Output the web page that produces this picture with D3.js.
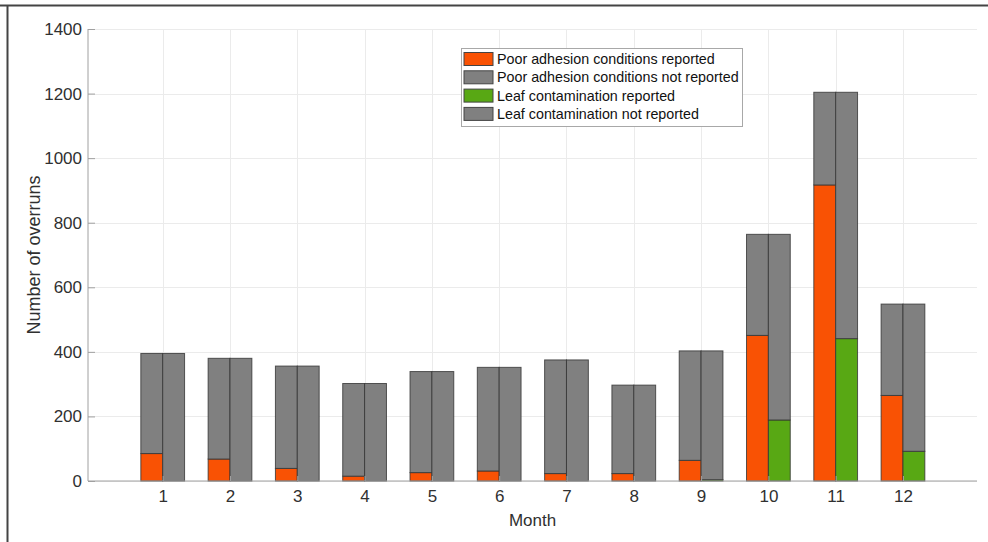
<!DOCTYPE html>
<html>
<head>
<meta charset="utf-8">
<script src="https://cdn.jsdelivr.net/npm/d3@7"></script>
<style>
  body { margin: 0; background: #fff; }
  svg { display: block; font-family: "Liberation Sans", Arial, sans-serif; }
</style>
</head>
<body>
<div id="chart"></div>
<script>
const months = [1, 2, 3, 4, 5, 6, 7, 8, 9, 10, 11, 12];
const totals = [395, 380, 356, 302, 339, 352, 375, 297, 403, 764, 1204, 548];
const adhesionReported = [85, 68, 39, 15, 26, 31, 23, 23, 64, 451, 917, 265];
const leafReported = [0, 0, 0, 0, 0, 0, 0, 0, 4, 189, 441, 92];
const yTicks = [0, 200, 400, 600, 800, 1000, 1200, 1400];
const legendLabels = [
  "Poor adhesion conditions reported",
  "Poor adhesion conditions not reported",
  "Leaf contamination reported",
  "Leaf contamination not reported"
];
const colors = ["#f95204", "#808080", "#58a814", "#808080"];

const width = 988, height = 542;
const margin = { left: 88, right: 11, top: 29, bottom: 61 };

const svg = d3.select("#chart").append("svg")
  .attr("width", width).attr("height", height);

// outer frame (top and left edges only visible)
svg.append("line").attr("x1", 0).attr("x2", width).attr("y1", 5.5).attr("y2", 5.5)
  .attr("stroke", "#444").attr("stroke-width", 2);
svg.append("line").attr("x1", 7.5).attr("x2", 7.5).attr("y1", 5).attr("y2", height)
  .attr("stroke", "#444").attr("stroke-width", 2);

const x = d3.scaleLinear().domain([-0.11, 13.1]).range([margin.left, width - margin.right]);
const y = d3.scaleLinear().domain([0, 1400]).range([height - margin.bottom, margin.top]);

// grid
svg.append("g").selectAll("line").data(yTicks).join("line")
  .attr("x1", x.range()[0]).attr("x2", x.range()[1])
  .attr("y1", d => Math.round(y(d)) + 0.5).attr("y2", d => Math.round(y(d)) + 0.5)
  .attr("stroke", "#ebebeb");
svg.append("g").selectAll("line").data(months).join("line")
  .attr("x1", d => Math.round(x(d)) + 0.5).attr("x2", d => Math.round(x(d)) + 0.5)
  .attr("y1", y(0)).attr("y2", y(1400))
  .attr("stroke", "#ebebeb");

// bars
const bw = 0.325;
const rows = months.map((m, i) => ({
  m,
  segs: [
    { x0: m - bw, x1: m, y0: 0, y1: adhesionReported[i], c: colors[0] },
    { x0: m - bw, x1: m, y0: adhesionReported[i], y1: totals[i], c: colors[1] },
    { x0: m, x1: m + bw, y0: 0, y1: leafReported[i], c: colors[2] },
    { x0: m, x1: m + bw, y0: leafReported[i], y1: totals[i], c: colors[3] }
  ]
}));
svg.append("g").selectAll("rect")
  .data(rows.flatMap(r => r.segs).filter(s => s.y1 > s.y0))
  .join("rect")
  .attr("x", d => x(d.x0))
  .attr("width", d => x(d.x1) - x(d.x0))
  .attr("y", d => y(d.y1))
  .attr("height", d => y(d.y0) - y(d.y1))
  .attr("fill", d => d.c)
  .attr("stroke", "#333")
  .attr("stroke-opacity", 0.8)
  .attr("stroke-width", 1);

// axes
const xAxis = d3.axisBottom(x).tickValues(months).tickSize(-5).tickPadding(9);
const yAxis = d3.axisLeft(y).tickValues(yTicks).tickFormat(d3.format("d")).tickSize(-7).tickPadding(6);

const gx = svg.append("g").attr("transform", `translate(0,${y(0)})`).call(xAxis);
const gy = svg.append("g").attr("transform", `translate(${margin.left},0)`).call(yAxis);
[gx, gy].forEach(g => {
  g.select(".domain").attr("stroke", "#a0a0a0");
  g.selectAll(".tick line").attr("stroke", "#a0a0a0");
  g.selectAll(".tick text").attr("fill", "#303030")
    .style("font-size", "17px").style("font-family", "'Liberation Sans', Arial, sans-serif");
});
gx.select(".domain").attr("d", `M${x.range()[0]},0H${x.range()[1]}`);
gy.select(".domain").attr("d", `M0,${y(0)}V${y(1400)}`);

// axis titles
svg.append("text").attr("x", (x.range()[0] + x.range()[1]) / 2).attr("y", 526)
  .attr("text-anchor", "middle").attr("fill", "#303030").style("font-size", "17px")
  .text("Month");
svg.append("text")
  .attr("transform", `translate(40,${(y(0) + y(1400)) / 2}) rotate(-90)`)
  .attr("text-anchor", "middle").attr("fill", "#303030").style("font-size", "18px")
  .text("Number of overruns");

// legend
const lg = svg.append("g").attr("transform", "translate(461,48)");
lg.append("rect").attr("x", 0.5).attr("y", 0.5).attr("width", 281).attr("height", 78)
  .attr("fill", "#fff").attr("stroke", "#a8a8a8");
const item = lg.selectAll("g.item").data(legendLabels).join("g")
  .attr("class", "item")
  .attr("transform", (d, i) => `translate(3,${4.5 + i * 18.3})`);
item.append("rect").attr("width", 29).attr("height", 13)
  .attr("fill", (d, i) => colors[i]).attr("stroke", "#444");
item.append("text").attr("x", 33).attr("y", 11.5)
  .attr("fill", "#111").style("font-size", "14.3px")
  .text(d => d);
</script>
</body>
</html>
